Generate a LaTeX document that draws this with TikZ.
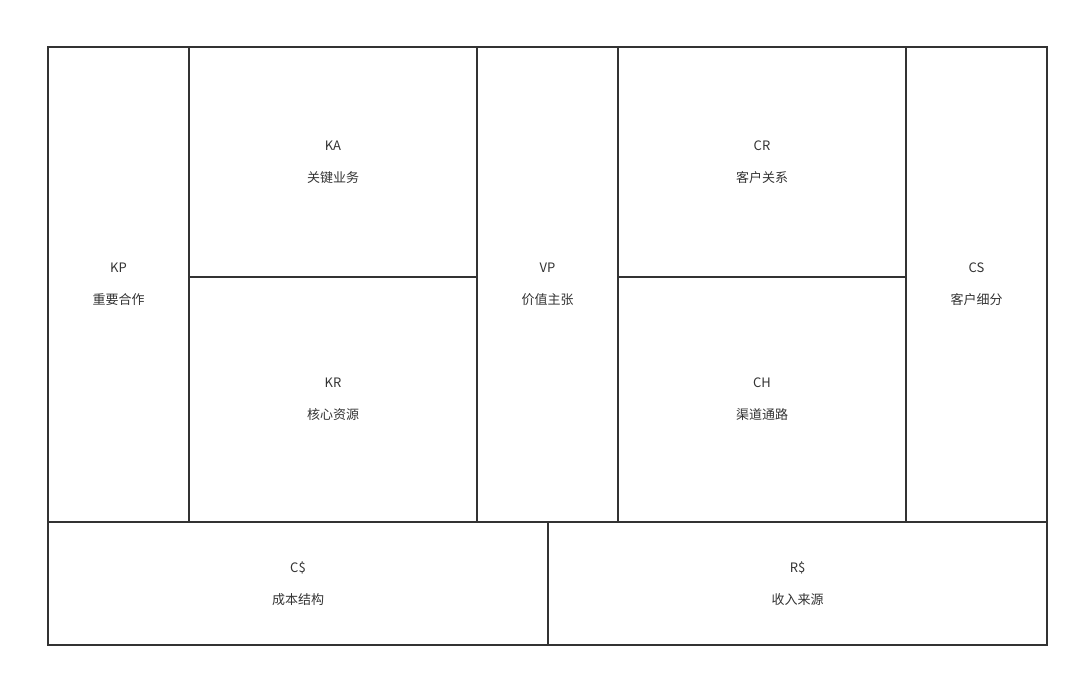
\documentclass[tikz,border=0pt]{standalone}
\usepackage{fontspec}
\setmainfont{Noto Sans CJK SC}
\usepackage{tikz}

\definecolor{linegray}{HTML}{333333}
\definecolor{textgray}{HTML}{333333}

\begin{document}
\begin{tikzpicture}
		[
			x=1pt, y=-1pt,
			cell/.style = {rectangle, align=center, draw=linegray, line width=2pt, fill=none,
				text=textgray, inner sep=0pt, font=\fontsize{13}{32}\selectfont},
			tallcell/.style = {cell, minimum width=141pt, minimum height=475pt},
			widecell/.style = {cell, minimum width=288pt},
			basecell/.style = {cell, minimum height=123pt},
		]

		\useasboundingbox (0,0) rectangle (1079,680);

		% left side
		\node[tallcell] (kp) 	at ( 118.5, 284.5 ) {KP\\重要合作};
		\node[widecell, minimum height=230pt] (ka) 	at ( 333.0, 162.0 ) {KA\\关键业务};
		\node[widecell, minimum height=245pt] (kr) 	at ( 333.0, 399.5 ) {KR\\核心资源};

		% middle
		\node[tallcell] (vp) 	at ( 547.5, 284.5 ) {VP\\价值主张};

		% right side
		\node[widecell, minimum height=230pt] (cr) 	at ( 762.0, 162.0 ) {CR\\客户关系};
		\node[widecell, minimum height=245pt] (ch) 	at ( 762.0, 399.5 ) {CH\\渠道通路};
		\node[tallcell] (cs) 	at ( 976.5, 284.5 ) {CS\\客户细分};

		% bottom row
		\node[basecell, minimum width=500pt] (cost) 	at ( 298.0, 583.5 ) {C\$\\成本结构};
		\node[basecell, minimum width=499pt] (rev) 	at ( 797.5, 583.5 ) {R\$\\收入来源};

		\end{tikzpicture}
\end{document}
